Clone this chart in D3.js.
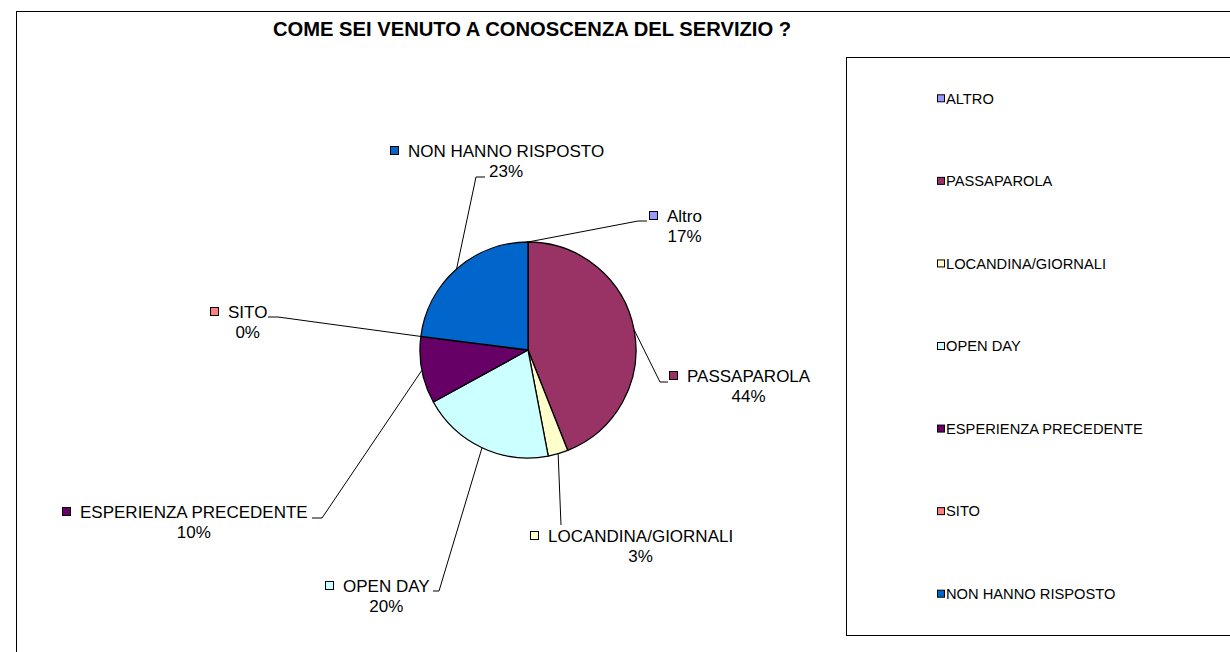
<meta charset="UTF-8">
<script src="https://cdn.jsdelivr.net/npm/d3@7"></script>

<style>
 body { margin:0; background:#fff; }
 svg text { font-family:"Liberation Sans", Arial, sans-serif; fill:#000; }
 .title { font-weight:bold; font-size:20.2px; }
 .lbl { font-size:17px; }
 .leg { font-size:14.7px; }
 .leader { fill:none; stroke:#000; stroke-width:1px; }
</style>

<svg id="chart"></svg>

<script>
 // Data
 var categories  = ["ALTRO", "PASSAPAROLA", "LOCANDINA/GIORNALI", "OPEN DAY",
                    "ESPERIENZA PRECEDENTE", "SITO", "NON HANNO RISPOSTO"];
 var sliceLabels = ["Altro", "PASSAPAROLA", "LOCANDINA/GIORNALI", "OPEN DAY",
                    "ESPERIENZA PRECEDENTE", "SITO", "NON HANNO RISPOSTO"];
 var values      = [0, 44, 3, 20, 10, 0, 23];
 var pctLabels   = ["17%", "44%", "3%", "20%", "10%", "0%", "23%"];
 var colors      = ["#9999FF", "#993366", "#FFFFCC", "#CCFFFF", "#660066", "#FF8080", "#0066CC"];
 var title = "COME SEI VENUTO A CONOSCENZA DEL SERVIZIO ?";

 // Layout of the hand placed data labels (elbow of leader, end of leader, text start, baseline)
 var labelLayout = [
     {elbow:[638,221], end:[647,221], tx:667, ty:222},
     {elbow:[660,382], end:[668,382], tx:687, ty:382},
     {elbow:[561,525], end:[561,525], tx:548, ty:542},
     {elbow:[439,591], end:[433,591], tx:343, ty:592},
     {elbow:[322,518], end:[312,518], tx:80,  ty:518},
     {elbow:[278,317], end:[268,317], tx:228, ty:318},
     {elbow:[476,177], end:[485,177], tx:408, ty:157}
 ];

 var width = 1230, height = 652;
 var cx = 528, cy = 350, radius = 108;

 var svg = d3.select("#chart").attr("width", width).attr("height", height);

 // chart area border, and legend box (both run past the right/bottom edge)
 svg.append("rect").attr("x",16.5).attr("y",11.5).attr("width",1400).attr("height",800)
    .attr("fill","#fff").attr("stroke","#000");
 svg.append("rect").attr("x",846.5).attr("y",57.5).attr("width",500).attr("height",578)
    .attr("fill","#fff").attr("stroke","#000");

 svg.append("text").attr("class","title")
    .attr("x",532).attr("y",36).attr("text-anchor","middle").text(title);

 // Pie
 var pie = d3.pie().sort(null).value(function (d){ return d; });
 var arcs = pie(values);
 var arc = d3.arc().innerRadius(0).outerRadius(radius);
 var edge = d3.arc().innerRadius(radius).outerRadius(radius);

 var g = svg.append("g").attr("transform","translate("+cx+","+cy+")");
 g.selectAll("path.slice").data(arcs).enter().append("path")
  .attr("class","slice")
  .attr("d", arc)
  .attr("fill", function (d,i){ return colors[i]; })
  .attr("stroke","#000").attr("stroke-width",1.3).attr("stroke-linejoin","round");

 // Leader lines
 svg.selectAll("path.leader").data(arcs).enter().append("path")
    .attr("class","leader")
    .attr("d", function (d,i){
        var p = edge.centroid(d), L = labelLayout[i];
        return d3.line()([[cx+p[0], cy+p[1]], L.elbow, L.end]);
    });

 // Data labels
 var lab = svg.selectAll("g.dlabel").data(arcs).enter().append("g").attr("class","dlabel");
 lab.append("rect")
    .attr("x", function (d,i){ return labelLayout[i].tx - 17.5; })
    .attr("y", function (d,i){ return labelLayout[i].ty - 10.5; })
    .attr("width",8).attr("height",8)
    .attr("fill", function (d,i){ return colors[i]; })
    .attr("stroke","#000").attr("stroke-width",1);
 lab.append("text").attr("class","lbl")
    .attr("x", function (d,i){ return labelLayout[i].tx; })
    .attr("y", function (d,i){ return labelLayout[i].ty; })
    .text(function (d,i){ return sliceLabels[i]; })
    .each(function (d,i){
        // percentage centred under the name
        var w = this.getComputedTextLength();
        lab.filter(function (e,j){ return j==i; }).append("text").attr("class","lbl")
           .attr("x", labelLayout[i].tx + w/2).attr("y", labelLayout[i].ty + 19.7)
           .attr("text-anchor","middle").text(pctLabels[i]);
    });

 // Legend
 var ly = d3.scalePoint().domain(categories).range([98.3, 593.7]);
 var leg = svg.selectAll("g.legend").data(categories).enter().append("g")
              .attr("class","legend")
              .attr("transform", function (d){ return "translate(937,"+ly(d)+")"; });
 leg.append("rect").attr("x",0.5).attr("y",-3.5).attr("width",7).attr("height",7)
    .attr("fill", function (d,i){ return colors[i]; })
    .attr("stroke","#000").attr("stroke-width",1);
 leg.append("text").attr("class","leg").attr("x",9).attr("y",5.2)
    .text(function (d){ return d; });
</script>
